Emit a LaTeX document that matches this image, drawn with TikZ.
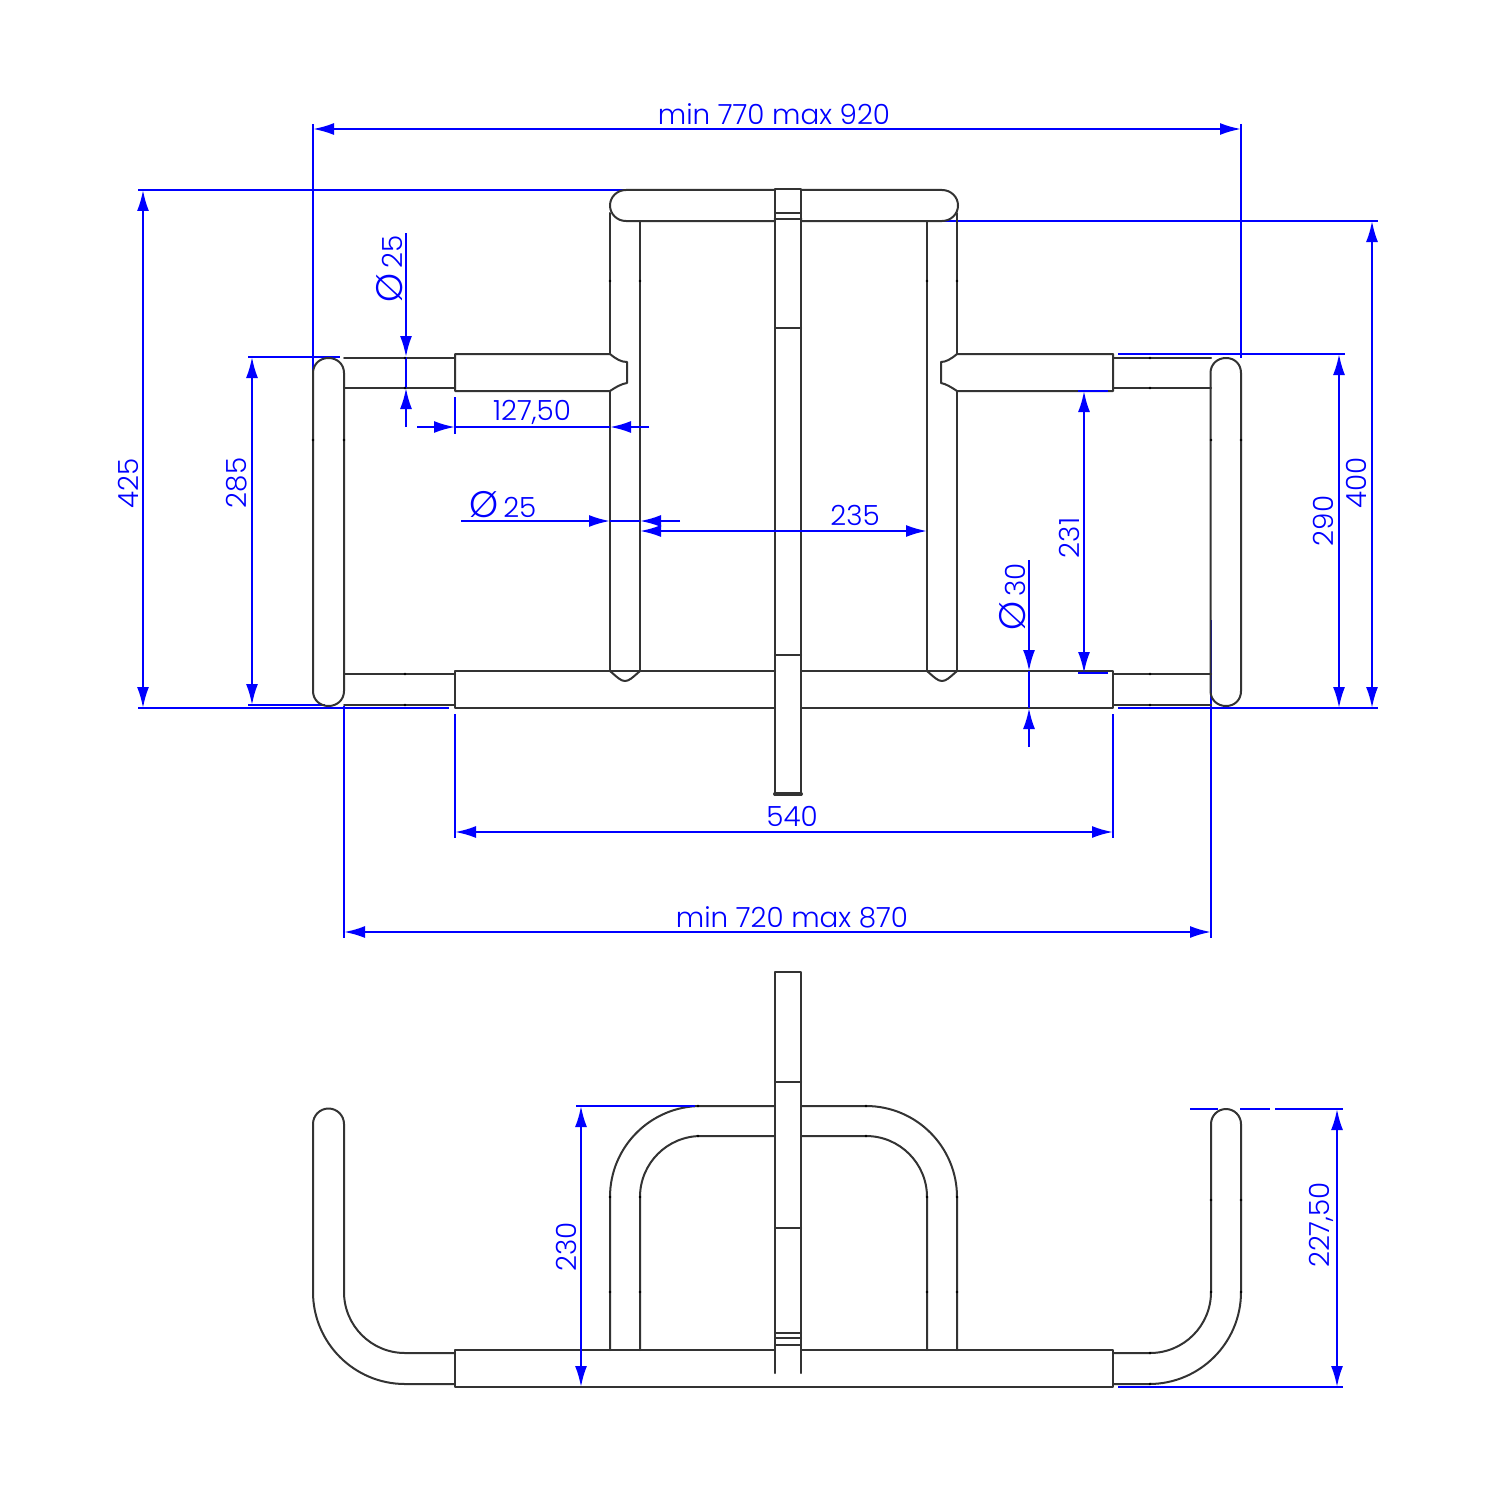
\documentclass[tikz,border=0pt]{standalone}
\usepackage{fontspec}
\setmainfont{Poppins Light}
\usetikzlibrary{arrows.meta}
\newcommand{\diam}{{\fontsize{10.5pt}{10.5pt}\selectfont Ø}}
\tikzset{
  part/.style={draw=black!80,line width=0.2mm,line cap=round,line join=round},
  dim/.style={draw=blue,line width=0.22mm,{Latex[length=2.1mm,width=1.2mm]}-{Latex[length=2.1mm,width=1.2mm]}},
  tipend/.style={draw=blue,line width=0.22mm,-{Latex[length=2.1mm,width=1.2mm]}},
  ext/.style={draw=blue,line width=0.22mm},
  lab/.style={text=blue,font=\fontsize{7.9pt}{9pt}\selectfont,inner sep=0pt},
  vlab/.style={lab,rotate=90},
  joint/.style={fill=black,draw=none}
}
\begin{document}
\begin{tikzpicture}[x=0.1mm,y=-0.1mm]
\useasboundingbox (0,0) rectangle (1500,1500);
% ---------- top view: extension lines
\draw[ext] (313,124) -- (313,440);
\draw[ext] (1241,124) -- (1241,358);
\draw[ext] (138,190) -- (695,190);
\draw[ext] (138,708) -- (449,708);
\draw[ext] (248,357) -- (340,357);
\draw[ext] (248,705) -- (325,705);
\draw[ext] (870,221) -- (1378,221);
\draw[ext] (1118,354) -- (1345,354);
\draw[ext] (1118,708) -- (1378,708);
\draw[ext] (455,397) -- (455,434);
\draw[ext] (455,714) -- (455,838);
\draw[ext] (1113,714) -- (1113,838);
\draw[ext] (344,706) -- (344,938);
\draw[ext] (1211,620) -- (1211,938);
% ---------- top view: parts
% top handle
\draw[part] (775,190) -- (626,190) .. controls (617,190) and (610,197) .. (610,205.500) .. controls (610,214) and (617,221) .. (626,221) -- (775,221);
\draw[part] (801,190) -- (942,190) .. controls (951,190) and (958,197) .. (958,205.500) .. controls (958,214) and (951,221) .. (942,221) -- (801,221);
% vertical tubes
\draw[part] (610,213) -- (610,354) (610,391) -- (610,671);
\draw[part] (640,221) -- (640,671);
\draw[part] (957,213) -- (957,354) (957,391) -- (957,671);
\draw[part] (927,221) -- (927,671);
\draw[part] (610,671) .. controls (618,678) and (621,681) .. (625,681) .. controls (629,681) and (632,678) .. (640,671);
\draw[part] (927,671) .. controls (935,678) and (938,681) .. (942,681) .. controls (946,681) and (949,678) .. (957,671);
% sleeves
\draw[part] (610,354) .. controls (616,359) and (621,362) .. (627,362) -- (627,383) .. controls (621,384) and (616,387) .. (610,391) -- (455,391) -- (455,354) -- cycle;
\draw[part] (957,354) .. controls (951,359) and (946,362) .. (941,362) -- (941,383) .. controls (946,384) and (951,387) .. (957,391) -- (1113,391) -- (1113,354) -- cycle;
% bottom bar
\draw[part] (775,671) -- (455,671) -- (455,708) -- (775,708);
\draw[part] (801,671) -- (1113,671) -- (1113,708) -- (801,708);
% short tubes
\draw[part] (344,358) -- (455,358) (344,388) -- (455,388) (344,674) -- (455,674) (344,705) -- (455,705);
\draw[part] (1113,358) -- (1211,358) (1113,388) -- (1211,388) (1113,674) -- (1211,674) (1113,705) -- (1211,705);
% end capsules
\draw[part] (313,373) .. controls (313,364) and (320,358) .. (328.500,358) .. controls (337,358) and (344,364) .. (344,373) -- (344,691) .. controls (344,700) and (337,706) .. (328.500,706) .. controls (320,706) and (313,700) .. (313,691) -- cycle;
\draw[part] (1210.500,373) .. controls (1210.500,364) and (1217.500,358) .. (1226,358) .. controls (1234.500,358) and (1241,364) .. (1241,373) -- (1241,691) .. controls (1241,700) and (1234.500,706) .. (1226,706) .. controls (1217.500,706) and (1210.500,700) .. (1210.500,691) -- cycle;
% blade
\draw[part] (775,795) -- (775,189) -- (801,189) -- (801,795);
\draw[part,line width=0.4mm] (775,794) -- (801,794);
\draw[part] (775,213) -- (801,213) (775,328) -- (801,328) (775,655) -- (801,655);
\draw[part,line width=0.3mm] (775,219) -- (801,219);
% ---------- top view: dimensions
\draw[ext] (1078,391) -- (1108,391);
\draw[ext] (1078,673) -- (1108,673);
\draw[dim] (313,129) -- (1241,129);
\draw[dim] (143,190) -- (143,708);
\draw[dim] (252,357) -- (252,705);
\draw[dim] (1084,391) -- (1084,673);
\draw[dim] (1339,354) -- (1339,708);
\draw[dim] (1372,221) -- (1372,708);
\draw[dim] (455,832) -- (1113,832);
\draw[dim] (344,932) -- (1211,932);
\draw[dim] (640,531) -- (927,531);
% outside-arrow dimensions
\draw[tipend] (406,233) -- (406,357);
\draw[tipend] (406,427) -- (406,388);
\draw[ext] (406,357) -- (406,388);
\draw[tipend] (417,427) -- (455,427);
\draw[tipend] (649,427) -- (610,427);
\draw[ext] (455,427) -- (610,427);
\draw[tipend] (461,521) -- (610,521);
\draw[tipend] (680,521) -- (640,521);
\draw[ext] (610,521) -- (640,521);
\draw[tipend] (1029,560) -- (1029,671);
\draw[tipend] (1029,747) -- (1029,708);
\draw[ext] (1029,671) -- (1029,708);
% labels
\node[lab] (l770) at (774,114) {min 770 max 920};
\node[vlab] (l425) at (128,483) {425};
\node[vlab] (l285) at (237,483) {285};
\node[vlab] (ld25v) at (390,269) {\diam\,25};
\node[lab] (l12750) at (532,412) {127,50};
\node[lab] (ld25h) at (503,505) {\diam\,25};
\node[lab] (l235) at (855,515) {235};
\node[vlab] (l231) at (1069,538) {231};
\node[vlab] (ld30) at (1013,597) {\diam\,30};
\node[vlab] (l290) at (1323,521) {290};
\node[vlab] (l400) at (1356,483) {400};
\node[lab] (l540) at (792,816) {540};
\node[lab] (l720) at (792,917) {min 720 max 870};
% ---------- front view: parts
\draw[part] (775,1373) -- (775,972) -- (801,972) -- (801,1373);
\draw[part] (775,1082) -- (801,1082) (775,1228) -- (801,1228) (775,1333) -- (801,1333) (775,1338) -- (801,1338) (775,1345) -- (801,1345);
\draw[part] (775,1350) -- (455,1350) -- (455,1387) -- (1113,1387) -- (1113,1350) -- (801,1350);
% arch
\draw[part] (610,1350) -- (610,1197) arc[start angle=180,end angle=90,radius=91,y radius=-91] -- (775,1106);
\draw[part] (640,1350) -- (640,1197) arc[start angle=180,end angle=90,radius=61,y radius=-61] -- (775,1136);
\draw[part] (957,1350) -- (957,1197) arc[start angle=0,end angle=90,radius=91,y radius=-91] -- (801,1106);
\draw[part] (927,1350) -- (927,1197) arc[start angle=0,end angle=90,radius=61,y radius=-61] -- (801,1136);
% J tubes
\draw[part] (455,1384) -- (405,1384) arc[start angle=270,end angle=180,radius=92,y radius=-92] -- (313,1124) arc[start angle=180,end angle=0,radius=15.5,y radius=-15.5] -- (344,1292) arc[start angle=180,end angle=270,radius=61,y radius=-61] -- (455,1353);
\draw[part] (1113,1384) -- (1149,1384) arc[start angle=270,end angle=360,radius=92,y radius=-92] -- (1241,1124) arc[start angle=0,end angle=180,radius=15,y radius=-15] -- (1211,1292) arc[start angle=0,end angle=-90,radius=61,y radius=-61] -- (1113,1353);
% ---------- front view: dimensions
\draw[ext] (576,1106) -- (695,1106);
\draw[ext] (1190,1109) -- (1218,1109) (1240,1109) -- (1270,1109) (1275,1109) -- (1343,1109);
\draw[ext] (1118,1387) -- (1343,1387);
\draw[dim] (581,1106) -- (581,1387);
\draw[dim] (1337,1109) -- (1337,1387);
\node[vlab] (l230) at (566,1247) {230};
\node[vlab] (l22750) at (1321,1225) {227,50};
% joints
\foreach \x/\y in {610/281,640/281,927/281,957/281,405/358,405/388,405/674,405/705,1150/358,1150/388,1150/674,1150/705,313/440,344/440,1211/440,1241/440,610/1292,640/1292,927/1292,957/1292,698/1106,698/1136,866/1106,866/1136,610/1197,640/1197,927/1197,957/1197,1211/1200,1241/1200,1211/1292,1241/1292,1150/1353,1150/1384}
  \fill[joint] (\x,\y) circle[radius=1.4];
\end{tikzpicture}
\end{document}
